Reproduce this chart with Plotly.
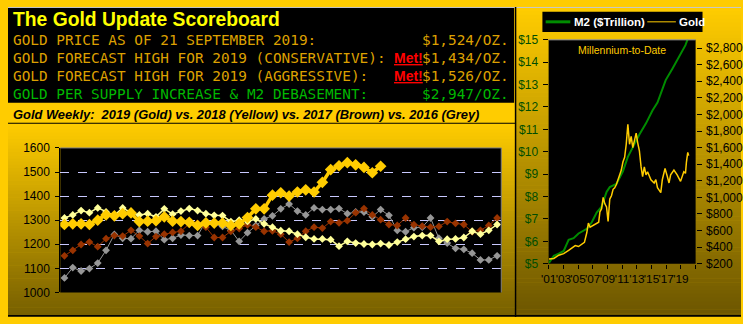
import plotly.graph_objects as go

W, H = 743, 324
ARIAL = "Liberation Sans, Arial, sans-serif"
MONO = "DejaVu Sans Mono, monospace"

# ---------------- data: weekly gold (left chart) ----------------
weeks = list(range(53))
gold_2019 = [1282, 1285, 1285, 1282, 1300, 1322, 1318, 1327, 1330, 1294, 1296, 1298, 1314,
             1296, 1294, 1291, 1278, 1289, 1288, 1288, 1278, 1285, 1311, 1347, 1347, 1404,
             1414, 1400, 1417, 1426, 1417, 1457, 1510, 1526, 1539, 1530, 1519, 1497, 1524]
gold_2018 = [1309, 1322, 1340, 1331, 1351, 1334, 1320, 1351, 1331, 1322, 1327, 1314, 1347,
             1325, 1338, 1348, 1340, 1327, 1320, 1319, 1294, 1300, 1295, 1305, 1285, 1271,
             1256, 1254, 1242, 1229, 1222, 1222, 1219, 1192, 1212, 1205, 1201, 1199, 1203,
             1197, 1209, 1221, 1232, 1236, 1236, 1212, 1221, 1222, 1228, 1254, 1242, 1258, 1282]
gold_2017 = [1152, 1175, 1199, 1209, 1190, 1223, 1236, 1234, 1258, 1234, 1203, 1232, 1242,
             1249, 1254, 1285, 1287, 1271, 1228, 1228, 1254, 1265, 1281, 1271, 1254, 1256,
             1242, 1209, 1225, 1254, 1271, 1267, 1294, 1289, 1298, 1331, 1348, 1322, 1302,
             1282, 1278, 1309, 1281, 1275, 1271, 1274, 1294, 1287, 1282, 1252, 1258, 1278, 1309]
gold_2016 = [1060, 1103, 1089, 1099, 1122, 1175, 1241, 1225, 1223, 1258, 1252, 1254, 1219,
             1225, 1238, 1236, 1236, 1295, 1285, 1274, 1258, 1212, 1248, 1278, 1305, 1318,
             1347, 1367, 1338, 1322, 1351, 1344, 1344, 1348, 1327, 1334, 1334, 1314, 1344,
             1320, 1258, 1252, 1269, 1271, 1309, 1225, 1205, 1183, 1179, 1163, 1135, 1135, 1152]
weekly_ticks = [1000, 1100, 1200, 1300, 1400, 1500, 1600]
weekly_grid = [1100, 1200, 1300, 1400, 1500]

# ---------------- data: millennium-to-date (right chart) ----------------
m2_years = [2001.04, 2001.71, 2002.38, 2003.05, 2003.72, 2004.40, 2005.07, 2005.63, 2006.19,
            2006.87, 2007.54, 2008.21, 2008.88, 2009.32, 2010.22, 2011.11, 2011.78, 2012.68,
            2013.35, 2014.25, 2015.13, 2015.81, 2016.03, 2016.93, 2017.82, 2018.72, 2019.16,
            2019.62, 2019.93]
m2_vals = [5.04, 5.35, 5.45, 5.57, 6.07, 6.14, 6.35, 6.45, 6.56, 6.85, 7.28, 7.55, 8.2, 8.42,
           8.56, 9.13, 9.77, 10.34, 10.77, 11.27, 11.84, 12.2, 12.4, 13.2, 13.7, 14.2, 14.47,
           14.76, 15.04]
gold_years = [2001.04, 2001.71, 2002.38, 2003.05, 2003.72, 2004.18, 2004.62, 2005.07, 2005.52,
              2005.87, 2006.19, 2006.41, 2006.64, 2007.08, 2007.54, 2007.81, 2007.98, 2008.21,
              2008.42, 2008.65, 2008.88, 2009.09, 2009.32, 2009.55, 2009.77, 2009.99, 2010.22,
              2010.44, 2010.66, 2010.89, 2011.11, 2011.34, 2011.56, 2011.78, 2012.01, 2012.23,
              2012.45, 2012.68, 2012.91, 2013.12, 2013.35, 2013.58, 2013.79, 2014.02, 2014.25,
              2014.46, 2014.92, 2015.36, 2015.59, 2015.81, 2016.26, 2016.47, 2016.84, 2017.15,
              2017.38, 2017.60, 2018.05, 2018.49, 2018.95, 2019.39, 2019.62, 2019.75, 2019.93,
              2020.06]
gold_vals = [256, 263, 302, 321, 360, 391, 419, 407, 430, 457, 573, 690, 640, 663, 678, 701,
             826, 864, 1000, 922, 884, 709, 980, 1019, 1097, 1116, 1155, 1213, 1251, 1329, 1426,
             1484, 1640, 1880, 1640, 1736, 1600, 1678, 1775, 1658, 1561, 1367, 1251, 1367, 1271,
             1309, 1213, 1174, 1213, 1116, 1058, 1213, 1349, 1251, 1174, 1271, 1329, 1271, 1193,
             1309, 1290, 1426, 1542, 1503]
m2_ticks = [5, 6, 7, 8, 9, 10, 11, 12, 13, 14, 15]
m2_labels = ["$5", "$6", "$7", "$8", "$9", "$10", "$11", "$12", "$13", "$14", "$15"]
gold_ticks = [200, 400, 600, 800, 1000, 1200, 1400, 1600, 1800, 2000, 2200, 2400, 2600, 2800]
gold_labels = ["$200", "$400", "$600", "$800", "$1,000", "$1,200", "$1,400", "$1,600",
               "$1,800", "$2,000", "$2,200", "$2,400", "$2,600", "$2,800"]
year_ticks = [2001, 2003, 2005, 2007, 2009, 2011, 2013, 2015, 2017, 2019, 2021]
year_labels = ["'01", "'03", "'05", "'07", "'09", "'11", "'13", "'15", "'17", "'19", ""]

# ---------------- scoreboard text ----------------
score_labels = ["GOLD PRICE AS OF 21 SEPTEMBER 2019:",
                "GOLD FORECAST HIGH FOR 2019 (CONSERVATIVE):",
                "GOLD FORECAST HIGH FOR 2019 (AGGRESSIVE):",
                "GOLD PER SUPPLY INCREASE & M2 DEBASEMENT:"]
score_values = ["$1,524/OZ.", "$1,434/OZ.", "$1,526/OZ.", "$2,947/OZ."]
score_met = ["", "Met!", "Met!", ""]
score_colors = ["#DDA000", "#DDA000", "#DDA000", "#00B800"]

# ---------------- geometry (pixels) ----------------
LX0, LX1, LY0, LY1 = 53, 500, 147.3, 298.3
RX0, RX1, RY0, RY1 = 548, 697, 34.3, 268.3


def px(x):
    return x / W


def py(y):
    return 1 - y / H


shapes = []
annotations = []


def rect(x0, y0, x1, y1, color, layer="below"):
    shapes.append(dict(type="rect", xref="paper", yref="paper", x0=px(x0), x1=px(x1),
                       y0=py(y1), y1=py(y0), fillcolor=color, line=dict(width=0), layer=layer))


def seg(x0, y0, x1, y1, color, width=1, layer="above"):
    shapes.append(dict(type="line", xref="paper", yref="paper", x0=px(x0), x1=px(x1),
                       y0=py(y0), y1=py(y1), line=dict(color=color, width=width), layer=layer))


def gradient(x0, y0, x1, y1, c0, c1, n):
    for i in range(n):
        t = i / (n - 1)
        c = tuple(round(a + (b - a) * t) for a, b in zip(c0, c1))
        ya = y0 + (y1 - y0) * i / n
        yb = y0 + (y1 - y0) * (i + 1) / n + 0.6
        rect(x0, ya, x1, min(yb, y1), "rgb(%d,%d,%d)" % c)


def text(x, y, s, size, color, family=ARIAL, xanchor="left", yanchor="middle"):
    annotations.append(dict(x=px(x), y=py(y), xref="paper", yref="paper", text=s,
                            showarrow=False, xanchor=xanchor, yanchor=yanchor, borderpad=0,
                            font=dict(size=size, color=color, family=family)))


# backgrounds
gradient(0, 121, 515, 324, (255, 204, 0), (118, 95, 0), 60)
gradient(515, 0, 743, 324, (255, 204, 0), (108, 86, 0), 80)
rect(0, 0, 513, 100, "#000000")
rect(LX0, LY0, LX1, LY1, "#000000")
rect(RX0, RY0, RX1, RY1, "#000000")
# frame lines
seg(0, 0.5, 743, 0.5, "#C8C8C8", 1)
seg(0, 121.5, 515, 121.5, "#000000", 1)
seg(514.5, 0, 514.5, 324, "#000000", 1.5)
seg(0, 322.8, 743, 322.8, "#000000", 1.5)
seg(LX0, LY0, LX1, LY0, "#808080", 1)
seg(LX1, LY0, LX1, LY1, "#808080", 1)
seg(RX0, RY0, RX1, RY0, "#A0A0A0", 1)

# scoreboard
text(4, 13, "<b>The Gold Update Scoreboard</b>", 19.3, "#FFFF00")
row_y = [34.5, 53.3, 71.8, 91]
for lab, val, met, col, yy in zip(score_labels, score_values, score_met, score_colors, row_y):
    text(4, yy, lab, 14.4, col, MONO)
    text(509, yy, val, 14.4, col, MONO, xanchor="right")
    if met:
        text(390, yy, "<b><u>" + met + "</u></b>", 14, "#FF0000")

text(4, 112, "<b><i>Gold Weekly:\u00a0 2019 (Gold) vs. 2018 (Yellow) vs. 2017 (Brown) vs. 2016 (Grey)</i></b>",
     12.9, "#000000")

# right-chart legend box
rect(541.7, 5, 704, 26, "#000000", layer="above")
seg(545, 15.5, 570, 15.5, "#008C00", 3)
text(573, 15.5, "<b>M2 ($Trillion)</b>", 11.5, "#FFFFFF")
seg(648, 15.5, 677, 15.5, "#FFCC00", 1)
text(679, 15.5, "<b>Gold</b>", 11.5, "#FFFFFF")
text(622.5, 44.7, "Millennium-to-Date", 10.5, "#FFCC00", xanchor="center")

fig = go.Figure()

# placeholder trace so the grid-only overlay axis gets its own subplot layer
fig.add_trace(go.Scatter(x=[None], y=[None], xaxis="x", yaxis="y4", mode="lines",
                         hoverinfo="skip"))

series = [
    (gold_2016, "#969696", 1, 6),
    (gold_2017, "#993300", 1, 6),
    (gold_2018, "#FFFF99", 1.5, 6),
    (gold_2019, "#FFCC00", 3.5, 9),
]
for vals, col, lw, ms in series:
    fig.add_trace(go.Scatter(x=weeks[:len(vals)], y=vals, mode="lines+markers",
                             line=dict(color=col, width=lw),
                             marker=dict(symbol="diamond", size=ms, color=col, line=dict(width=0)),
                             xaxis="x", yaxis="y", hoverinfo="skip"))

fig.add_trace(go.Scatter(x=gold_years, y=gold_vals, mode="lines",
                         line=dict(color="#FFCC00", width=1.5), xaxis="x2", yaxis="y3",
                         hoverinfo="skip"))
fig.add_trace(go.Scatter(x=m2_years, y=m2_vals, mode="lines",
                         line=dict(color="#008C00", width=2), xaxis="x2", yaxis="y2",
                         hoverinfo="skip"))

tickfont = dict(family=ARIAL, size=12, color="#000000")

fig.update_layout(
    width=W, height=H, margin=dict(l=0, r=0, t=0, b=0, pad=0),
    paper_bgcolor="#FFCC00", plot_bgcolor="rgba(0,0,0,0)",
    showlegend=False, shapes=shapes, annotations=annotations,
    xaxis=dict(domain=[px(LX0), px(LX1)], range=[-0.5, 52.5], anchor="y", visible=False,
               fixedrange=True),
    yaxis=dict(domain=[py(LY1), py(LY0)], range=[1000, 1600], anchor="x",
               tickmode="array", tickvals=weekly_ticks, ticks="outside", ticklen=4,
               tickcolor="#000000", showline=True, linecolor="#000000", linewidth=1,
               showgrid=False, zeroline=False, tickfont=tickfont, ticklabelstandoff=3),
    yaxis4=dict(domain=[py(LY1), py(LY0)], range=[1000, 1600], anchor="x", overlaying="y",
                tickmode="array", tickvals=weekly_grid, showgrid=True, gridcolor="#C8C8FF",
                griddash="dash", gridwidth=1, showticklabels=False, ticks="", zeroline=False,
                showline=False),
    xaxis2=dict(domain=[px(RX0), px(RX1)], range=[2001, 2021], anchor="y2",
                tickmode="array", tickvals=year_ticks, ticktext=year_labels, ticks="outside",
                ticklen=4, tickcolor="#000000", tickangle=0, showgrid=False, zeroline=False,
                showline=False, tickfont=dict(family=ARIAL, size=11.8, color="#000000")),
    yaxis2=dict(domain=[py(RY1), py(RY0)], range=[5, 15], anchor="x2",
                tickmode="array", tickvals=m2_ticks, ticktext=m2_labels, ticks="outside",
                ticklen=5, tickcolor="#000000", showgrid=False, zeroline=False, showline=False,
                tickfont=dict(family=ARIAL, size=12, color="#004D00"), ticklabelstandoff=2),
    yaxis3=dict(domain=[py(RY1), py(RY0)], range=[200, 2900], anchor="x2", overlaying="y2",
                side="right", tickmode="array", tickvals=gold_ticks, ticktext=gold_labels,
                ticks="outside", ticklen=5, tickcolor="#000000", showgrid=False,
                zeroline=False, showline=False, tickfont=tickfont, ticklabelstandoff=2),
)

fig.write_html("out.html")
